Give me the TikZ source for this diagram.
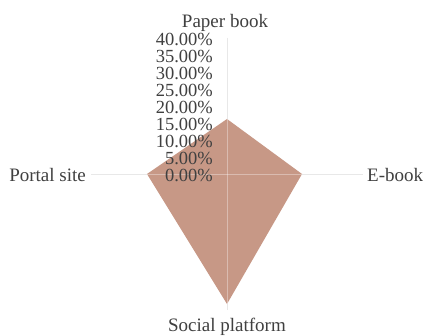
\documentclass[tikz,border=0pt]{standalone}
\usepackage{fontspec}
\setmainfont{Liberation Serif}
\definecolor{fillc}{RGB}{199,152,134}
\definecolor{gridc}{RGB}{232,232,232}
\definecolor{txtc}{RGB}{64,64,64}
\tikzset{
  ticklbl/.style={anchor=east, inner sep=0pt, text=txtc, font=\fontsize{18.5}{18.5}\selectfont},
  catlbl/.style={inner sep=0pt, text=txtc, font=\fontsize{19}{19}\selectfont},
  axisline/.style={draw=gridc, line width=0.8pt},
  axisover/.style={draw=white, opacity=0.35, line width=0.8pt}
}
\begin{document}
\begin{tikzpicture}[x=1pt,y=-1pt]
\useasboundingbox[fill=white] (0,0) rectangle (425,336);
\coordinate (c) at (227,174);
\coordinate (top) at (227,38);
\coordinate (bot) at (227,310);
\coordinate (lft) at (91,174);
\coordinate (rgt) at (363,174);
% data points
\coordinate (p1) at (227,119);
\coordinate (p2) at (302,174);
\coordinate (p3) at (227,304);
\coordinate (p4) at (147,174);
\draw[axisline] (top) -- (bot);
\draw[axisline] (lft) -- (rgt);
\fill[fillc] (p1) -- (p2) -- (p3) -- (p4) -- cycle;
\draw[axisover] (p1) -- (p3);
\draw[axisover] (p4) -- (p2);
% tick labels
\node[ticklbl] (t0) at (213,175) {0.00\%};
\node[ticklbl] (t1) at (213,158) {5.00\%};
\node[ticklbl] (t2) at (213,141) {10.00\%};
\node[ticklbl] (t3) at (213,124) {15.00\%};
\node[ticklbl] (t4) at (213,107) {20.00\%};
\node[ticklbl] (t5) at (213,90) {25.00\%};
\node[ticklbl] (t6) at (213,73) {30.00\%};
\node[ticklbl] (t7) at (213,56) {35.00\%};
\node[ticklbl] (t8) at (213,39) {40.00\%};
% category labels
\node[catlbl, anchor=base] (lp) at (225,28) {Paper book};
\node[catlbl, anchor=east] (ll) at (86,175) {Portal site};
\node[catlbl, anchor=west] (le) at (367,175) {E-book};
\node[catlbl, anchor=base] (ls) at (227,331) {Social platform};
\end{tikzpicture}
\end{document}
